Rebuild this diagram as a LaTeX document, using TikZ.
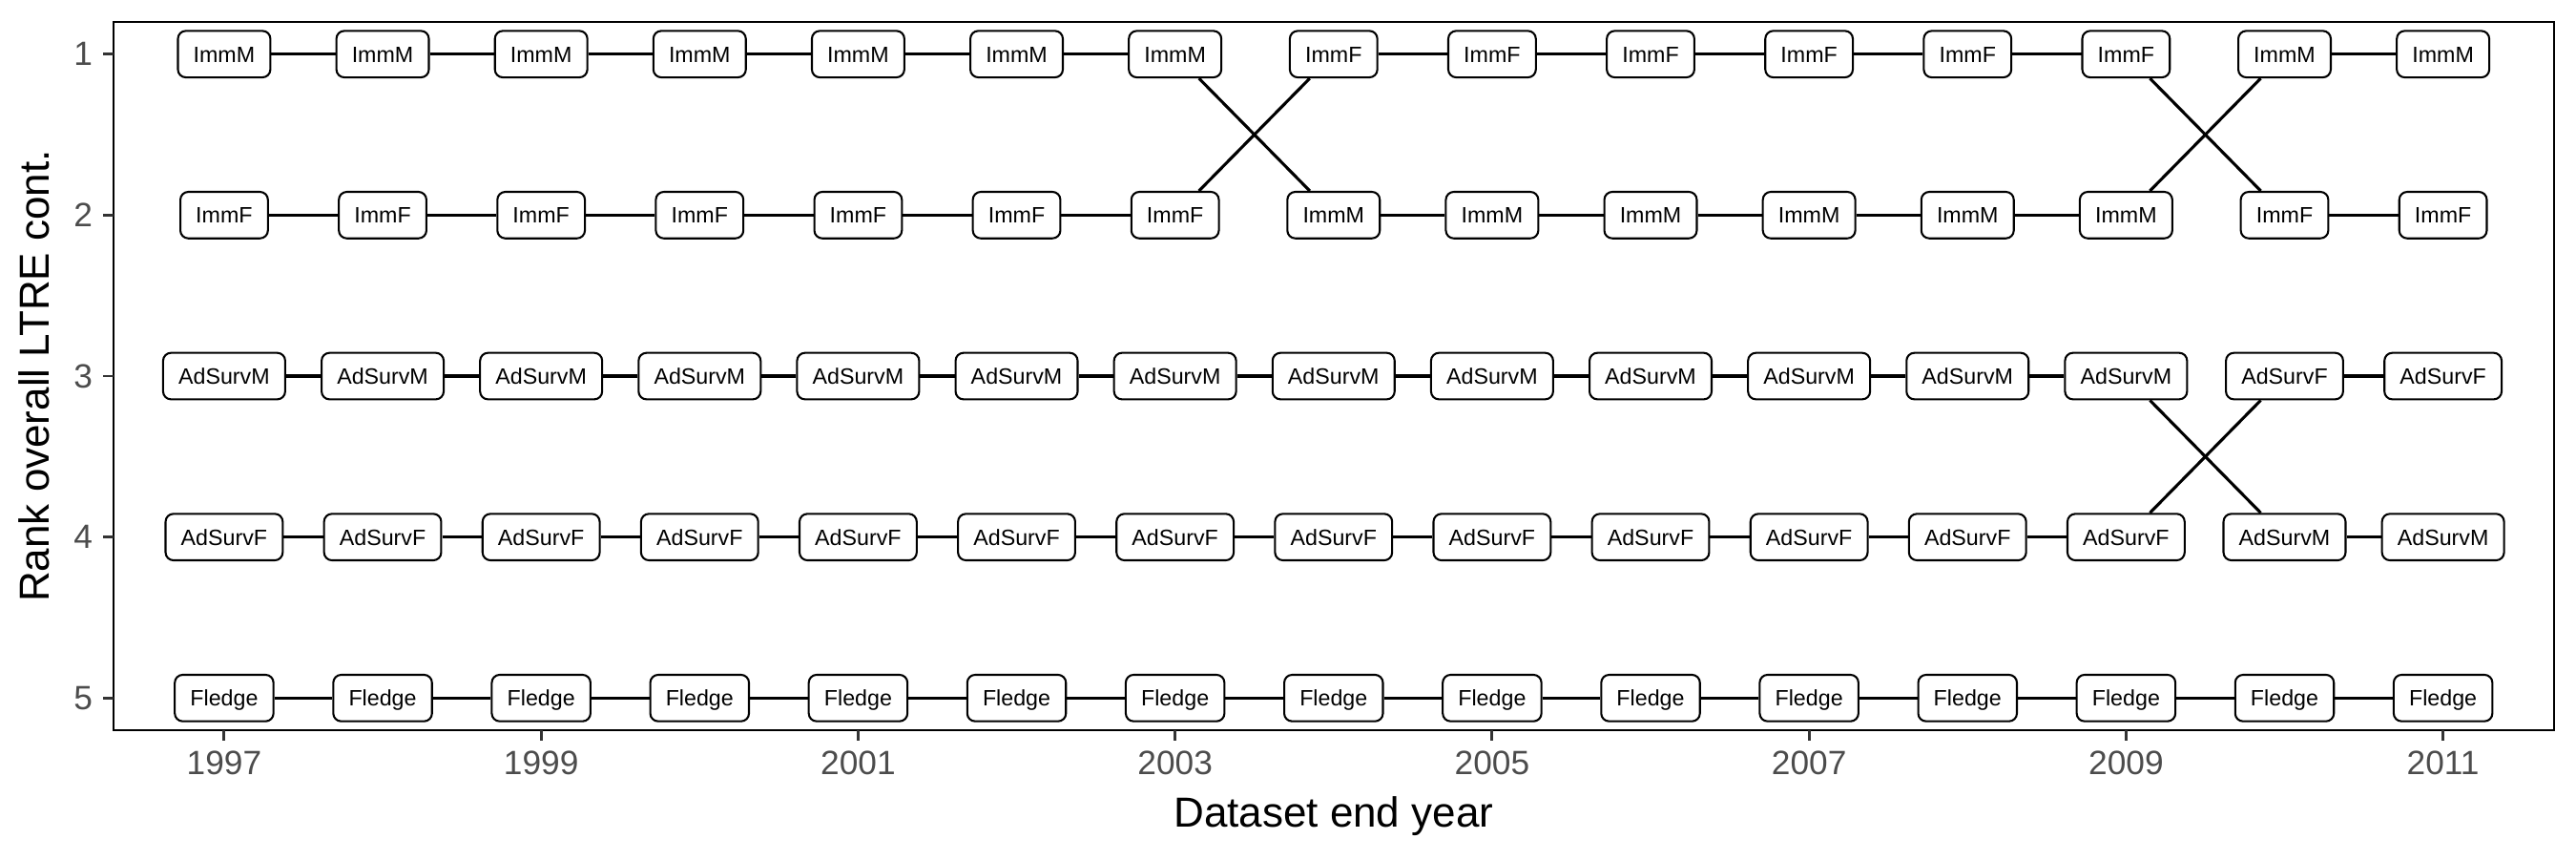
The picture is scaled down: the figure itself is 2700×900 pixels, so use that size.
\documentclass[tikz,border=0pt]{standalone}
\usepackage{fontspec}
\setmainfont{Liberation Sans}
\usepackage{tikz}
\usetikzlibrary{matrix}
\colorlet{ticktext}{black!70}
\colorlet{tickline}{black!80}
\newcommand\lblfont{\fontsize{5.6}{6.7}\selectfont}
\newcommand\tickfont{\fontsize{8.5}{10}\selectfont}
\newcommand\titlefont{\fontsize{10.6}{12.7}\selectfont}
\tikzstyle{lbl}=[draw,fill=white,line width=.5pt,rounded corners=2pt,font=\lblfont,inner xsep=3.9pt,inner ysep=0pt,text height=7.87pt,text depth=3.86pt]
\tikzstyle{lnk}=[line width=.75pt]
\tikzstyle{tck}=[line width=.7pt,draw=tickline]
\tikzstyle{ticklbl}=[inner sep=0pt,text=ticktext,font=\tickfont]
\begin{document}
\begin{tikzpicture}[x=0.2409pt,y=-0.2409pt]
	\useasboundingbox (0,0) rectangle (2700,900);
	\coordinate (panel-nw) at (119,23);
	\coordinate (panel-se) at (2676.6,765);
	\draw[line width=.45pt] (panel-nw) rectangle (panel-se);
	\matrix (m) [matrix of nodes,ampersand replacement=\&,nodes={lbl},
	  column sep={40.02pt,between origins},row sep={40.63pt,between origins}] at (1397.8,394) {
	  ImmM \& ImmM \& ImmM \& ImmM \& ImmM \& ImmM \& ImmM \& ImmF \& ImmF \& ImmF \& ImmF \& ImmF \& ImmF \& ImmM \& ImmM \\
	  ImmF \& ImmF \& ImmF \& ImmF \& ImmF \& ImmF \& ImmF \& ImmM \& ImmM \& ImmM \& ImmM \& ImmM \& ImmM \& ImmF \& ImmF \\
	  AdSurvM \& AdSurvM \& AdSurvM \& AdSurvM \& AdSurvM \& AdSurvM \& AdSurvM \& AdSurvM \& AdSurvM \& AdSurvM \& AdSurvM \& AdSurvM \& AdSurvM \& AdSurvF \& AdSurvF \\
	  AdSurvF \& AdSurvF \& AdSurvF \& AdSurvF \& AdSurvF \& AdSurvF \& AdSurvF \& AdSurvF \& AdSurvF \& AdSurvF \& AdSurvF \& AdSurvF \& AdSurvF \& AdSurvM \& AdSurvM \\
	  Fledge \& Fledge \& Fledge \& Fledge \& Fledge \& Fledge \& Fledge \& Fledge \& Fledge \& Fledge \& Fledge \& Fledge \& Fledge \& Fledge \& Fledge \\
	};
	% same rank from one year to the next
	\foreach \r/\cols in {1/{1,...,6,8,9,10,11,12,14},2/{1,...,6,8,9,10,11,12,14},3/{1,...,12,14},4/{1,...,12,14},5/{1,...,14}}
	  \foreach \c in \cols {
	    \pgfmathtruncatemacro\n{\c+1}
	    \draw[lnk] (m-\r-\c) -- (m-\r-\n);
	  }
	% rank swaps
	\draw[lnk] (m-1-7) -- (m-2-8);
	\draw[lnk] (m-2-7) -- (m-1-8);
	\draw[lnk] (m-1-13) -- (m-2-14);
	\draw[lnk] (m-2-13) -- (m-1-14);
	\draw[lnk] (m-3-13) -- (m-4-14);
	\draw[lnk] (m-4-13) -- (m-3-14);
	% axes
	\foreach \r in {1,...,5}
	  \draw[tck] (m-\r-1.center -| panel-nw) -- ++(-11.4,0) node[ticklbl,anchor=east,xshift=-2.2pt] (yl-\r) {\r};
	\foreach \c/\yr in {1/1997,3/1999,5/2001,7/2003,9/2005,11/2007,13/2009,15/2011}
	  \draw[tck] (m-5-\c.center |- panel-se) -- ++(0,11.4) node[ticklbl,anchor=north,yshift=-2.2pt] (xl-\c) {\yr};
	\node[font=\titlefont,anchor=base] (xtitle) at (1397.8,866) {Dataset end year};
	\node[font=\titlefont,anchor=base,rotate=90] (ytitle) at (52,394) {Rank overall LTRE cont.};
\end{tikzpicture}
\end{document}
